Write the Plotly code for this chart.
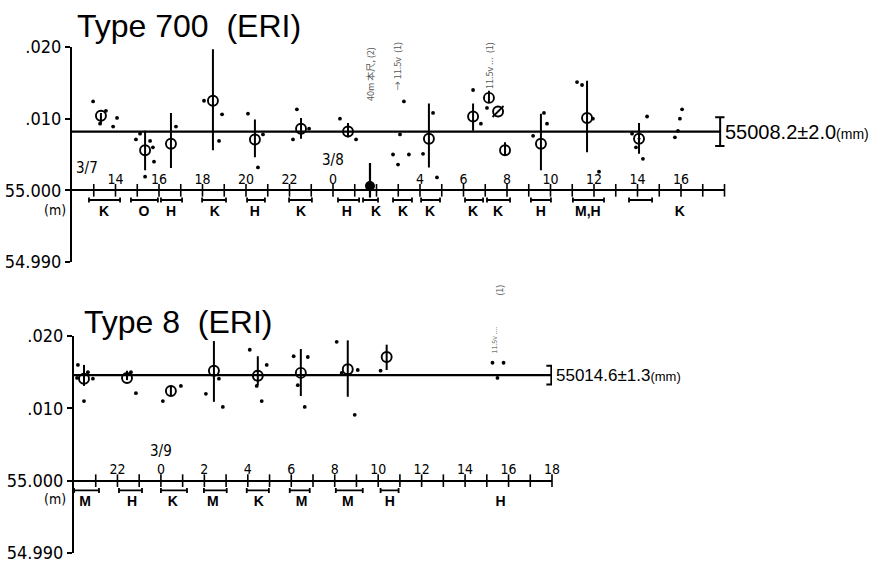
import plotly.graph_objects as go

W, H = 877, 564
FONT = "DejaVu Sans Condensed, Liberation Sans Narrow, Liberation Sans, Arial, sans-serif"
TFONT = "Liberation Sans, Arial, sans-serif"

# ---------------- Type 700 (hours counted from 3/7 00:00, values in m) ----------------
t7_hours = [13.33, 15.36, 16.55, 18.48, 20.41, 22.53, 24.69, 28.41, 30.44, 31.17, 31.59, 31.91, 33.56, 35.68, 38.07]
t7_vals = [55.0104, 55.0056, 55.0065, 55.0125, 55.0071, 55.0086, 55.0082, 55.0072, 55.0103, 55.0129, 55.0110, 55.0056, 55.0065, 55.0101, 55.0072]
t7_hi = [55.0108, 55.0083, 55.0108, 55.0197, 55.0099, 55.0101, 55.0094, 55.0121, 55.0121, 55.0139, 55.0110, 55.0067, 55.0107, 55.0153, 55.0094]
t7_lo = [55.0093, 55.0028, 55.0031, 55.0056, 55.0046, 55.0072, 55.0074, 55.0032, 55.0083, 55.0122, 55.0110, 55.0049, 55.0028, 55.0053, 55.0051]
t7_symbols = ["circle-open"] * 14 + ["circle-open-dot"]
t7_slashed_hour = [31.59]
t7_slashed_val = [55.0110]

t7_filled_hour = [25.70]
t7_filled_val = [55.0006]
t7_filled_hi = [55.0038]
t7_filled_lo = [54.9990]

t7_dot_hours = [12.97, 13.56, 14.07, 13.89, 13.29, 14.94, 15.13, 15.59, 15.77, 15.36, 15.72, 16.78,
                18.07, 18.90, 18.76, 20.09, 20.78, 20.55, 22.34, 22.16, 22.90, 24.32, 25.06,
                27.08, 27.26, 26.76, 27.49, 26.99, 28.14, 28.60, 28.78, 30.44, 30.80, 31.08,
                33.20, 33.70, 33.84, 35.22, 35.45, 35.95, 36.23, 37.75, 37.93, 38.25, 38.44,
                40.05, 39.95, 39.86, 39.72]
t7_dot_vals = [55.0124, 55.0111, 55.0101, 55.0089, 55.0093, 55.0071, 55.0079, 55.0069, 55.0040, 55.0019, 55.0060, 55.0089,
               55.0125, 55.0106, 55.0069, 55.0107, 55.0078, 55.0032, 55.0113, 55.0071, 55.0086, 55.0100, 55.0071,
               55.0078, 55.0124, 55.0050, 55.0050, 55.0036, 55.0051, 55.0108, 55.0018, 55.0140, 55.0093, 55.0115,
               55.0076, 55.0108, 55.0093, 55.0151, 55.0147, 55.0100, 55.0026, 55.0079, 55.0060, 55.0044, 55.0103,
               55.0113, 55.0100, 55.0083, 55.0074]

t7_mean = 55.0082
t7_sd = 0.0020
t7_label = "55008.2±2.0"

t7_seg_start = [12.78, 14.71, 16.09, 17.98, 20.05, 21.98, 24.23, 25.38, 26.76, 28.05, 30.07, 31.08, 33.10, 35.03, 37.61]
t7_seg_end = [14.21, 15.95, 17.06, 19.08, 20.87, 23.03, 25.20, 26.07, 27.63, 28.92, 30.90, 32.14, 34.02, 36.46, 38.67]
t7_obs_hours = [13.47, 15.31, 16.55, 18.57, 20.41, 22.53, 24.64, 25.98, 27.22, 28.46, 30.44, 31.59, 33.56, 35.72, 39.95]
t7_obs = ["K", "O", "H", "K", "H", "K", "H", "K", "K", "K", "K", "K", "H", "M,H", "K"]

t7_tick_hours = [14, 16, 18, 20, 22, 24, 28, 30, 32, 34, 36, 38, 40]
t7_tick_text = ["14", "16", "18", "20", "22", "0", "4", "6", "8", "10", "12", "14", "16"]
t7_minor_hours = list(range(13, 43))

# ---------------- Type 8 (hours counted from 3/9 00:00) ----------------
t8_hours = [-3.54, -1.56, 0.46, 2.44, 4.46, 6.44, 8.60, 10.39]
t8_vals = [55.0141, 55.0142, 55.0124, 55.0152, 55.0145, 55.0149, 55.0154, 55.0171]
t8_hi = [55.0160, 55.0152, 55.0132, 55.0193, 55.0172, 55.0182, 55.0194, 55.0188]
t8_lo = [55.0131, 55.0139, 55.0117, 55.0109, 55.0132, 55.0117, 55.0116, 55.0153]

t8_dot_hours = [-3.82, -3.86, -3.13, -3.54, -3.36, -1.38, -1.15, 0.09, 0.92, 2.25, 2.07, 2.85, 2.67,
                4.09, 4.87, 4.64, 4.41, 6.11, 6.76, 6.30, 6.62, 8.09, 8.32, 9.06, 8.92, 10.11, 10.71,
                15.26, 15.77, 15.49]
t8_dot_vals = [55.0160, 55.0142, 55.0141, 55.0110, 55.0150, 55.0150, 55.0121, 55.0110, 55.0131, 55.0201, 55.0120, 55.0102, 55.0141,
               55.0181, 55.0160, 55.0110, 55.0131, 55.0172, 55.0171, 55.0132, 55.0102, 55.0192, 55.0149, 55.0153, 55.0091, 55.0152, 55.0201,
               55.0163, 55.0163, 55.0142]

t8_mean = 55.0146
t8_sd = 0.0013
t8_label = "55014.6±1.3"

t8_seg_start = [-4.0, -1.93, 0.0, 1.98, 3.95, 5.93, 8.05, 10.11]
t8_seg_end = [-2.85, -0.87, 1.20, 3.03, 4.97, 6.85, 9.29, 10.94]
t8_obs_hours = [-3.49, -1.33, 0.55, 2.39, 4.51, 6.48, 8.60, 10.53, 15.63]
t8_obs = ["M", "H", "K", "M", "K", "M", "M", "H", "H"]

t8_tick_hours = [-2, 0, 2, 4, 6, 8, 10, 12, 14, 16, 18]
t8_tick_text = ["22", "0", "2", "4", "6", "8", "10", "12", "14", "16", "18"]
t8_minor_hours = list(range(-3, 19))

y_tickvals = [54.990, 55.000, 55.010, 55.020]
y_ticktext = ["54.990", "55.000", ".010", ".020"]


def px(x):
    return x / W


def py(y):
    return 1 - y / H


fig = go.Figure()


def panel(xa, ya, hours, vals, hi, lo, symbols, dot_h, dot_v, mean, sd,
          seg_s, seg_e, obs_h, obs, minor, x0, x_end):
    xr, yr = xa, ya
    # mean line
    fig.add_trace(go.Scatter(x=[x0, x_end], y=[mean, mean], mode="lines",
                             line=dict(color="black", width=2.2), xaxis=xr, yaxis=yr,
                             showlegend=False, hoverinfo="skip", cliponaxis=False))
    # +- sd bracket
    fig.add_trace(go.Scatter(x=[x_end], y=[mean], mode="markers",
                             marker=dict(size=1, color="rgba(0,0,0,0)"),
                             error_y=dict(type="constant", value=sd, color="black", thickness=2, width=5),
                             xaxis=xr, yaxis=yr, showlegend=False, cliponaxis=False, hoverinfo="skip"))
    # time axis crossing ticks
    fig.add_trace(go.Scatter(x=minor, y=[55.0] * len(minor), mode="markers",
                             marker=dict(symbol="line-ns", size=9, line=dict(color="black", width=1.6)),
                             xaxis=xr, yaxis=yr, showlegend=False, cliponaxis=False, hoverinfo="skip"))
    # observation interval bars
    mids = [(a + b) / 2 for a, b in zip(seg_s, seg_e)]
    halfs = [(b - a) / 2 for a, b in zip(seg_s, seg_e)]
    fig.add_trace(go.Scatter(x=mids, y=[54.99865] * len(mids), mode="markers",
                             marker=dict(size=1, color="rgba(0,0,0,0)"),
                             error_x=dict(type="data", array=halfs, color="black", thickness=1.8, width=2.5),
                             xaxis=xr, yaxis=yr, showlegend=False, cliponaxis=False, hoverinfo="skip"))
    # observer letters
    fig.add_trace(go.Scatter(x=obs_h, y=[54.99695] * len(obs_h), mode="text", text=obs,
                             textfont=dict(family=TFONT, size=14, color="black", weight="bold"),
                             xaxis=xr, yaxis=yr, showlegend=False, cliponaxis=False, hoverinfo="skip"))
    # individual readings
    fig.add_trace(go.Scatter(x=dot_h, y=dot_v, mode="markers",
                             marker=dict(size=3.8, color="black"),
                             xaxis=xr, yaxis=yr, showlegend=False, hoverinfo="skip"))
    # means with ranges
    fig.add_trace(go.Scatter(x=hours, y=vals, mode="markers",
                             marker=dict(symbol=symbols, size=10, color="black",
                                         line=dict(color="black", width=1.9)),
                             error_y=dict(type="data", symmetric=False,
                                          array=[h - v for h, v in zip(hi, vals)],
                                          arrayminus=[v - l for v, l in zip(vals, lo)],
                                          color="black", thickness=2, width=0),
                             xaxis=xr, yaxis=yr, showlegend=False, hoverinfo="skip"))


panel("x", "y", t7_hours, t7_vals, t7_hi, t7_lo, t7_symbols, t7_dot_hours, t7_dot_vals,
      t7_mean, t7_sd, t7_seg_start, t7_seg_end, t7_obs_hours, t7_obs, t7_minor_hours, 12, 41.8)
fig.add_trace(go.Scatter(x=t7_slashed_hour, y=t7_slashed_val, mode="markers",
                         marker=dict(symbol="line-ne", size=11, line=dict(color="black", width=1.8)),
                         xaxis="x", yaxis="y", showlegend=False, hoverinfo="skip"))
fig.add_trace(go.Scatter(x=t7_filled_hour, y=t7_filled_val, mode="markers",
                         marker=dict(symbol="circle", size=10, color="black"),
                         error_y=dict(type="data", symmetric=False,
                                      array=[t7_filled_hi[0] - t7_filled_val[0]],
                                      arrayminus=[t7_filled_val[0] - t7_filled_lo[0]],
                                      color="black", thickness=2.2, width=0),
                         xaxis="x", yaxis="y", showlegend=False, cliponaxis=False, hoverinfo="skip"))

t8_symbols = ["circle-open"] * len(t8_hours)
panel("x2", "y2", t8_hours, t8_vals, t8_hi, t8_lo, t8_symbols, t8_dot_hours, t8_dot_vals,
      t8_mean, t8_sd, t8_seg_start, t8_seg_end, t8_obs_hours, t8_obs, t8_minor_hours, -4, 17.97)

# axes geometry
top_y = [py(262), py(47)]
bot_y = [py(553), py(336)]
top_x = [px(72), px(724.5)]
bot_x = [px(74), px(552)]

xcommon = dict(showgrid=False, zeroline=False, showline=True, linecolor="black", linewidth=2,
               ticks="", side="top", anchor="free", automargin=False, ticklabeloverflow="allow",
               tickfont=dict(family=FONT, size=14, color="black"))
ycommon = dict(showgrid=False, zeroline=False, showline=True, linecolor="black", linewidth=2,
               ticks="outside", ticklen=5, tickwidth=2, tickcolor="black", automargin=False,
               ticklabeloverflow="allow",
               tickvals=y_tickvals, ticktext=y_ticktext, range=[54.990, 55.020],
               tickfont=dict(family=FONT, size=18, color="black"))

fig.update_layout(
    width=W, height=H, margin=dict(l=0, r=0, t=0, b=0, pad=0, autoexpand=False),
    paper_bgcolor="white", plot_bgcolor="white",
    xaxis=dict(domain=top_x, range=[12, 42], tickvals=t7_tick_hours, ticktext=t7_tick_text,
               position=top_y[0] + (top_y[1] - top_y[0]) / 3, **xcommon),
    yaxis=dict(domain=top_y, anchor="x", **ycommon),
    xaxis2=dict(domain=bot_x, range=[-4, 18], tickvals=t8_tick_hours, ticktext=t8_tick_text,
                position=bot_y[0] + (bot_y[1] - bot_y[0]) / 3, **xcommon),
    yaxis2=dict(domain=bot_y, anchor="x2", **ycommon),
)

ann = []
# titles
ann.append(dict(text="Type 700  (ERI)", x=px(75), y=py(26), xref="paper", yref="paper",
                xanchor="left", yanchor="middle", showarrow=False,
                font=dict(family=TFONT, size=32, color="black")))
ann.append(dict(text="Type 8  (ERI)", x=px(82), y=py(322), xref="paper", yref="paper",
                xanchor="left", yanchor="middle", showarrow=False,
                font=dict(family=TFONT, size=32, color="black")))
# mean labels
ann.append(dict(text=t7_label + "<span style='font-size:14px'>(mm)</span>", x=41.8, y=t7_mean,
                xref="x", yref="y", xanchor="left", yanchor="middle", xshift=3, showarrow=False,
                font=dict(family=TFONT, size=20, color="black")))
ann.append(dict(text=t8_label + "<span style='font-size:13px'>(mm)</span>", x=17.97, y=t8_mean,
                xref="x2", yref="y2", xanchor="left", yanchor="middle", xshift=3, showarrow=False,
                font=dict(family=TFONT, size=17, color="black")))
# (m) labels
ann.append(dict(text="(m)", x=px(68), y=54.9973, xref="paper", yref="y", xanchor="right",
                showarrow=False, font=dict(family=FONT, size=14, color="black")))
ann.append(dict(text="(m)", x=px(68), y=54.9975, xref="paper", yref="y2", xanchor="right",
                showarrow=False, font=dict(family=FONT, size=14, color="black")))
# date labels
ann.append(dict(text="3/7", x=12.1, y=55.0031, xref="x", yref="y", xanchor="left",
                showarrow=False, font=dict(family=FONT, size=15, color="black")))
ann.append(dict(text="3/8", x=24, y=55.0042, xref="x", yref="y",
                showarrow=False, font=dict(family=FONT, size=15, color="black")))
ann.append(dict(text="3/9", x=0, y=55.0041, xref="x2", yref="y2",
                showarrow=False, font=dict(family=FONT, size=15, color="black")))
# faint handwritten notes
note_font = dict(family="Noto Sans CJK JP, sans-serif", size=9, color="#555")
ann.append(dict(text="40m 本尺, (2)", x=25.75, y=py(45), xref="x", yref="paper", textangle=-90,
                showarrow=False, font=note_font))
ann.append(dict(text="→ 11.5v  (1)", x=26.95, y=py(40), xref="x", yref="paper", textangle=-90,
                showarrow=False, font=note_font))
ann.append(dict(text="11.5v ...  (1)", x=31.2, y=py(40), xref="x", yref="paper", textangle=-90,
                showarrow=False, font=note_font))
ann.append(dict(text="(1)", x=15.55, y=py(290), xref="x2", yref="paper", textangle=-90,
                showarrow=False, font=note_font))
ann.append(dict(text="11.5v ....", x=15.35, y=py(340), xref="x2", yref="paper", textangle=-90,
                showarrow=False, font=dict(family="Noto Sans CJK JP, sans-serif", size=7, color="#777")))
fig.update_layout(annotations=ann)

fig.write_html("out.html", config={"displayModeBar": False},
               post_script="document.body.style.margin='0';")
